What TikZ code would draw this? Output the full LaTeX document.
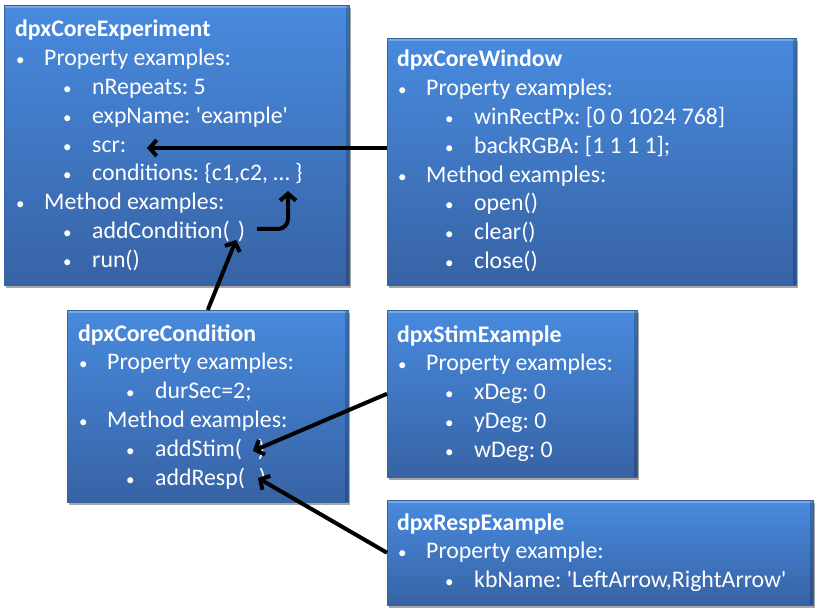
\documentclass[tikz,border=0pt]{standalone}
\usepackage{fontspec}
\setmainfont{Carlito}
\usetikzlibrary{arrows.meta, shadows, calc}
\definecolor{boxtop}{RGB}{72,138,222}
\definecolor{boxbot}{RGB}{55,99,165}
\definecolor{boxedge}{RGB}{55,98,160}
\tikzset{
    block/.style={rectangle, anchor=north west, inner sep=0pt, top color=boxtop, bottom color=boxbot, draw=boxedge, line width=0.5pt,
        drop shadow={shadow xshift=1.5pt, shadow yshift=-3pt, opacity=0.35, fill=black},
        path picture={
            \fill[white, opacity=0.25] (path picture bounding box.north west) rectangle ([yshift=-3pt]path picture bounding box.north east);
            \fill[black, opacity=0.2] ([xshift=-3pt]path picture bounding box.north east) rectangle (path picture bounding box.south east);
        }},
    txt/.style={anchor=base west, inner sep=0pt, text=white, font=\fontsize{23.8}{28.8}\selectfont\frenchspacing},
    arrow/.style={line width=4pt, -{Straight Barb[length=7pt, width=16pt]}}
}
\newcommand{\rows}[1]{\begin{tabular}[t]{@{}l@{}}#1\end{tabular}}
\newcommand{\bul}{{\fontsize{17}{17}\selectfont\textbullet}}
\newcommand{\ia}[1]{\makebox[29pt][l]{\hspace{1pt}\bul}#1}
\newcommand{\ib}[1]{\hspace*{48pt}\makebox[29pt][l]{\bul}#1}

\begin{document}
\begin{tikzpicture}[x=1pt, y=-1pt]
    \useasboundingbox (0,0) rectangle (821,612);
    % class boxes
    \node[block, minimum width=345pt, minimum height=280pt] (exp) at (4,5) {};
    \node[block, minimum width=409pt, minimum height=247pt] (win) at (387,38) {};
    \node[block, minimum width=281pt, minimum height=192pt] (cond) at (67,310) {};
    \node[block, minimum width=250pt, minimum height=167pt] (stim) at (387,310) {};
    \node[block, minimum width=426pt, minimum height=105pt] (resp) at (387,500) {};
    % contents
    \node[txt] (exptxt) at (15,37) {\rows{\textbf{dpxCoreExperiment}\\
        \ia{Property examples:}\\
        \ib{nRepeats: 5}\\
        \ib{expName: \textquotesingle example\textquotesingle}\\
        \ib{scr:}\\
        \ib{conditions: \{c1,c2, … \}}\\
        \ia{Method examples:}\\
        \ib{addCondition(\hspace{8pt})}\\
        \ib{run()}}};
    \node[txt] (wintxt) at (397,67) {\rows{\textbf{dpxCoreWindow}\\
        \ia{Property examples:}\\
        \ib{winRectPx: [0 0 1024 768]}\\
        \ib{backRGBA: [1 1 1 1];}\\
        \ia{Method examples:}\\
        \ib{open()}\\
        \ib{clear()}\\
        \ib{close()}}};
    \node[txt] (condtxt) at (78,341) {\rows{\textbf{dpxCoreCondition}\\
        \ia{Property examples:}\\
        \ib{durSec=2;}\\
        \ia{Method examples:}\\
        \ib{addStim(\hspace{16pt})}\\
        \ib{addResp(\hspace{14pt})}}};
    \node[txt] (stimtxt) at (397,342) {\rows{\textbf{dpxStimExample}\\
        \ia{Property examples:}\\
        \ib{xDeg: 0}\\
        \ib{yDeg: 0}\\
        \ib{wDeg: 0}}};
    \node[txt] (resptxt) at (397,530) {\rows{\textbf{dpxRespExample}\\
        \ia{Property example:}\\
        \ib{kbName: \textquotesingle LeftArrow,RightArrow\textquotesingle}}};
    % arrow targets
    \coordinate (scr) at (147,148);
    \coordinate (addc) at (236,240);
    \coordinate (addcr) at (257,229);
    \coordinate (dots) at (288,191);
    \coordinate (adds) at (253,451);
    \coordinate (addr) at (258,478);
    % links
    \draw[arrow] (win.west |- scr) -- (scr);
    \draw[arrow] (cond.north) -- (addc);
    \draw[arrow, rounded corners=10pt] (addcr) -| (dots);
    \draw[arrow] (stim.west) -- (adds);
    \draw[arrow] (resp.west) -- (addr);
\end{tikzpicture}
\end{document}
